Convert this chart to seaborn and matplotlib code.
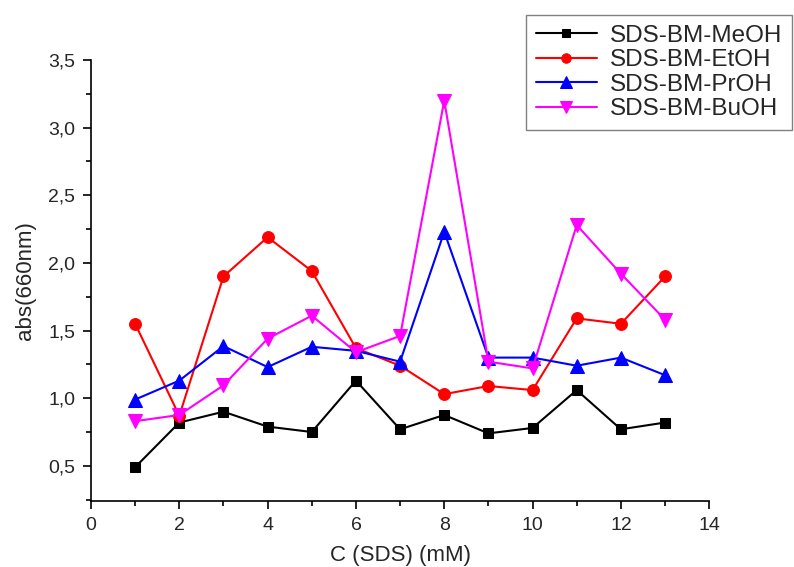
import matplotlib
matplotlib.use("Agg")
import matplotlib.pyplot as plt
import seaborn as sns
import pandas as pd
from matplotlib.ticker import MultipleLocator, FuncFormatter

conc = [1, 2, 3, 4, 5, 6, 7, 8, 9, 10, 11, 12, 13]
meoh = [0.49, 0.82, 0.90, 0.79, 0.75, 1.13, 0.77, 0.876, 0.74, 0.78, 1.06, 0.77, 0.82]
etoh = [1.55, 0.87, 1.90, 2.19, 1.94, 1.37, 1.24, 1.03, 1.09, 1.06, 1.59, 1.55, 1.90]
proh = [0.99, 1.13, 1.385, 1.23, 1.38, 1.35, 1.27, 2.23, 1.30, 1.30, 1.24, 1.30, 1.17]
buoh = [0.83, 0.876, 1.095, 1.44, 1.61, 1.34, 1.46, 3.20, 1.27, 1.22, 2.28, 1.92, 1.58]
series_names = ["SDS-BM-MeOH", "SDS-BM-EtOH", "SDS-BM-PrOH", "SDS-BM-BuOH"]
series_vals = [meoh, etoh, proh, buoh]
colors = ["#000000", "#ff0000", "#0000ff", "#ff00ff"]
markers = ["s", "o", "^", "v"]
msizes = [7.5, 8.5, 10, 10]

rows = []
for name, vals in zip(series_names, series_vals):
    for c, v in zip(conc, vals):
        rows.append({"C": c, "abs": v, "series": name})
df = pd.DataFrame(rows)

sns.set_style("ticks")
plt.rcParams["font.family"] = ["Liberation Sans", "DejaVu Sans"]

fig = plt.figure(figsize=(7.94, 5.67), dpi=100)
ax = fig.add_axes([0.1146, 0.1164, 0.7786, 0.7778])

for name, col, mk, ms in zip(series_names, colors, markers, msizes):
    sub = df[df["series"] == name]
    sns.lineplot(data=sub, x="C", y="abs", ax=ax, color=col, marker=mk,
                 markersize=ms, markeredgecolor=col, linewidth=1.5, label=name)

ax.set_xlim(0, 14)
ax.set_ylim(0.24, 3.5)
ax.xaxis.set_major_locator(MultipleLocator(2))
ax.xaxis.set_minor_locator(MultipleLocator(1))
ax.yaxis.set_major_locator(MultipleLocator(0.5))
ax.yaxis.set_minor_locator(MultipleLocator(0.25))
ax.yaxis.set_major_formatter(FuncFormatter(lambda v, p: f"{v:.1f}".replace(".", ",")))
ax.tick_params(which="major", direction="out", length=5.5, width=1.2, labelsize=14,
               pad=6, color="black")
ax.tick_params(which="minor", direction="out", length=3.5, width=1.2, color="black")
for s in ["top", "right"]:
    ax.spines[s].set_visible(False)
for s in ["left", "bottom"]:
    ax.spines[s].set_color("black")
    ax.spines[s].set_linewidth(1.2)

ax.set_xlabel("C (SDS) (mM)", fontsize=16, labelpad=8)
ax.set_ylabel("abs(660nm)", fontsize=16, labelpad=9)

leg = ax.legend(loc="upper right", bbox_to_anchor=(0.9975, 0.9735), bbox_transform=fig.transFigure,
                borderaxespad=0.0,
                fontsize=17.5, frameon=True, fancybox=False, handlelength=2.5,
                borderpad=0.4, labelspacing=0.1, handletextpad=0.55, markerscale=0.8)
leg.get_frame().set_edgecolor("#808080")
leg.get_frame().set_linewidth(1.0)
leg.get_frame().set_alpha(1.0)

fig.savefig("out.png", dpi=100)
